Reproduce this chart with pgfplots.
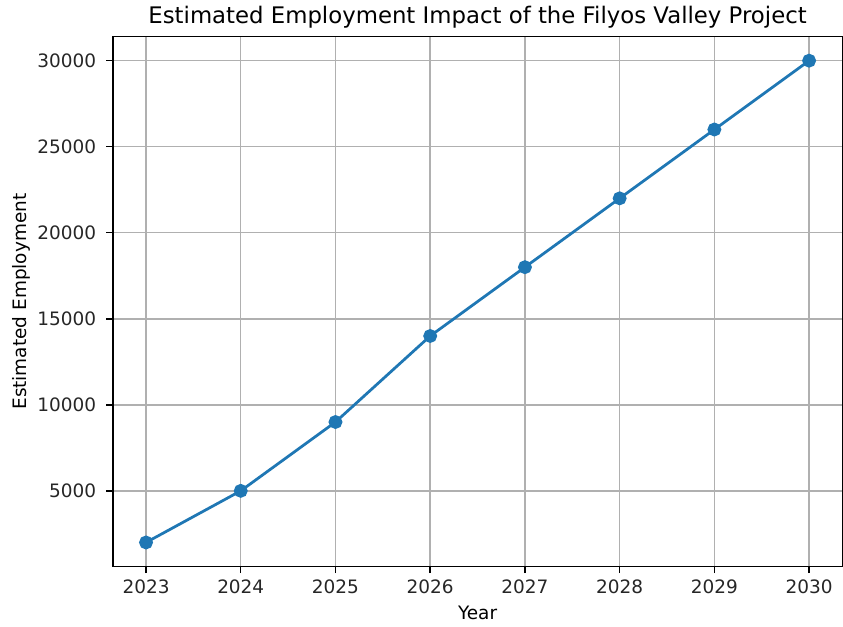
\documentclass[border=0pt]{standalone}
\usepackage{fontspec}
\setmainfont{DejaVu Sans}
\usepackage{pgfplots}
\pgfplotsset{compat=1.18}
\definecolor{mplblue}{HTML}{1F77B4}
\definecolor{mplgrid}{HTML}{B0B0B0}

\begin{document}
\begin{tikzpicture}
\begin{axis}[
    scale only axis,
    width=395pt, height=287pt,
    xmin=2022.65, xmax=2030.35,
    ymin=600, ymax=31400,
    xtick={2023,2024,2025,2026,2027,2028,2029,2030},
    ytick={5000,10000,15000,20000,25000,30000},
    scaled y ticks=false,
    scaled x ticks=false,
    /pgf/number format/1000 sep={},
    /pgf/number format/fixed,
    /pgf/number format/precision=0,
    /pgf/number format/assume math mode=true,
    tick label style={font=\fontsize{10}{12}\selectfont, color=black!85},
    yticklabel style={xshift=-2pt},
    label style={font=\fontsize{10}{12}\selectfont},
    ylabel shift=-3pt,
    title style={font=\fontsize{12.35}{14}\selectfont, yshift=-5pt},
    title={Estimated Employment Impact of the Filyos Valley Project},
    xlabel={Year},
    ylabel={\rule{0pt}{11pt}Estimated Employment},
    grid=major,
    grid style={mplgrid, line width=0.8pt},
    axis line style={line width=0.8pt},
    tick style={black, line width=0.8pt},
    tick align=outside,
    major tick length=3.5pt,
    xtick pos=bottom, ytick pos=left,
]
\addplot[color=mplblue, line width=1.5pt, mark=*, mark size=3pt,
         mark options={fill=mplblue, draw=mplblue}]
coordinates {(2023,2000) (2024,5000) (2025,9000) (2026,14000)
             (2027,18000) (2028,22000) (2029,26000) (2030,30000)};
\end{axis}
\end{tikzpicture}
\end{document}
